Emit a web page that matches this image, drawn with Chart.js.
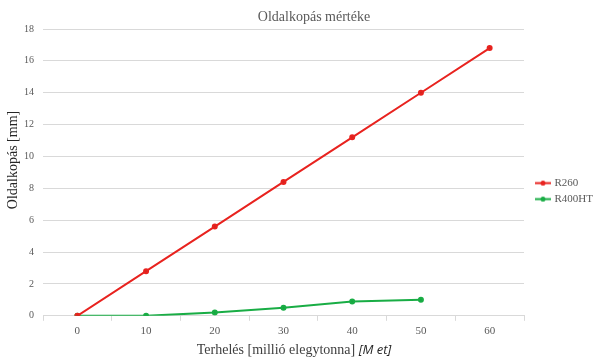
<!DOCTYPE html>
<html>
<head>
<meta charset="utf-8">
<script src="https://cdn.jsdelivr.net/npm/chart.js@4"></script>
<style>
  html, body { margin: 0; padding: 0; background: #fff; }
  #wrap { width: 600px; height: 362px; }
</style>
</head>
<body>
<div id="wrap"><canvas id="wearChart"></canvas></div>
<script>
// Terhelés (millió elegytonna) és oldalkopás (mm)
const loads = ['0', '10', '20', '30', '40', '50', '60'];
const r260 = [0, 2.8, 5.6, 8.4, 11.2, 14.0, 16.8];
const r400ht = [0, 0, 0.2, 0.5, 0.9, 1.0, null];
const yTicks = [0, 2, 4, 6, 8, 10, 12, 14, 16, 18];

const serif = "'Liberation Serif', 'DejaVu Serif', serif";
const redLine = '#e8231f';
const greenLine = '#19ad45';

// line-with-dot marker for the legend (left part left blank on purpose)
function legendMark(color) {
    const c = document.createElement('canvas');
    c.width = 24; c.height = 7;
    const g = c.getContext('2d');
    g.strokeStyle = color;
    g.lineWidth = 2;
    g.beginPath(); g.moveTo(8, 3.5); g.lineTo(24, 3.5); g.stroke();
    g.fillStyle = color;
    g.beginPath(); g.arc(16, 3.5, 2.5, 0, Math.PI * 2); g.fill();
    return c;
}

// chart and axis titles drawn by hand (mixed fonts on x, off-centre placement)
const titles = {
    id: 'titles',
    afterDraw(chart) {
        const ctx = chart.ctx;
        ctx.save();
        ctx.textBaseline = 'middle';

        ctx.textAlign = 'center';
        ctx.font = "14px " + serif;
        ctx.fillStyle = '#595959';
        ctx.fillText('Oldalkopás mértéke', 314, 17);

        ctx.textAlign = 'left';
        const a = 'Terhelés [millió elegytonna] ';
        const b = '[M et]';
        const sans = "italic 13px 'Open Sans', 'Liberation Sans', sans-serif";
        ctx.font = "14px " + serif;
        const wa = ctx.measureText(a).width;
        ctx.font = sans;
        const wb = ctx.measureText(b).width;
        const x = 294 - (wa + wb) / 2;
        ctx.font = "14px " + serif;
        ctx.fillStyle = '#404040';
        ctx.fillText(a, x, 350);
        ctx.font = sans;
        ctx.fillStyle = '#262626';
        ctx.fillText(b, x + wa, 350);

        ctx.translate(13, 160);
        ctx.rotate(-Math.PI / 2);
        ctx.textAlign = 'center';
        ctx.font = "14px " + serif;
        ctx.fillStyle = '#262626';
        ctx.fillText('Oldalkopás [mm]', 0, 0);
        ctx.restore();
    }
};

new Chart(document.getElementById('wearChart'), {
    type: 'line',
    data: {
        labels: loads,
        datasets: [
            { label: 'R260', data: r260, borderColor: redLine, backgroundColor: '#d42420', borderWidth: 2, pointRadius: 2, pointHoverRadius: 2 },
            { label: 'R400HT', data: r400ht, borderColor: greenLine, backgroundColor: '#16a63e', borderWidth: 2, pointRadius: 2, pointHoverRadius: 2 }
        ]
    },
    options: {
        responsive: true,
        maintainAspectRatio: false,
        animation: false,
        layout: { padding: { left: 4, right: 0, top: 29, bottom: 20 } },
        plugins: {
            legend: {
                position: 'right',
                maxWidth: 76,
                title: { display: true, text: ' ', font: { size: 6 }, padding: 2 },
                labels: {
                    color: '#595959',
                    font: { family: serif, size: 11 },
                    usePointStyle: true,
                    pointStyleWidth: 20,
                    boxHeight: 7,
                    padding: 5,
                    generateLabels(chart) {
                        const items = Chart.defaults.plugins.legend.labels.generateLabels(chart);
                        items.forEach((it, i) => {
                            it.pointStyle = legendMark(i === 0 ? redLine : greenLine);
                        });
                        return items;
                    }
                }
            },
            tooltip: { enabled: false }
        },
        scales: {
            x: {
                offset: true,
                grid: { display: true, drawOnChartArea: false, offset: true, drawTicks: true, tickLength: 5, color: '#d9d9d9' },
                border: { color: '#d9d9d9' },
                ticks: { color: '#595959', font: { family: serif, size: 11 }, padding: 4 }
            },
            y: {
                min: 0,
                max: 18,
                afterBuildTicks(axis) { axis.ticks = yTicks.map(v => ({ value: v })); },
                afterFit(axis) { axis.width = 39; },
                grid: { color: '#d9d9d9', drawTicks: false },
                border: { display: false },
                ticks: { color: '#595959', font: { family: serif, size: 10 }, padding: 9 }
            }
        }
    },
    plugins: [titles]
});
</script>
</body>
</html>
